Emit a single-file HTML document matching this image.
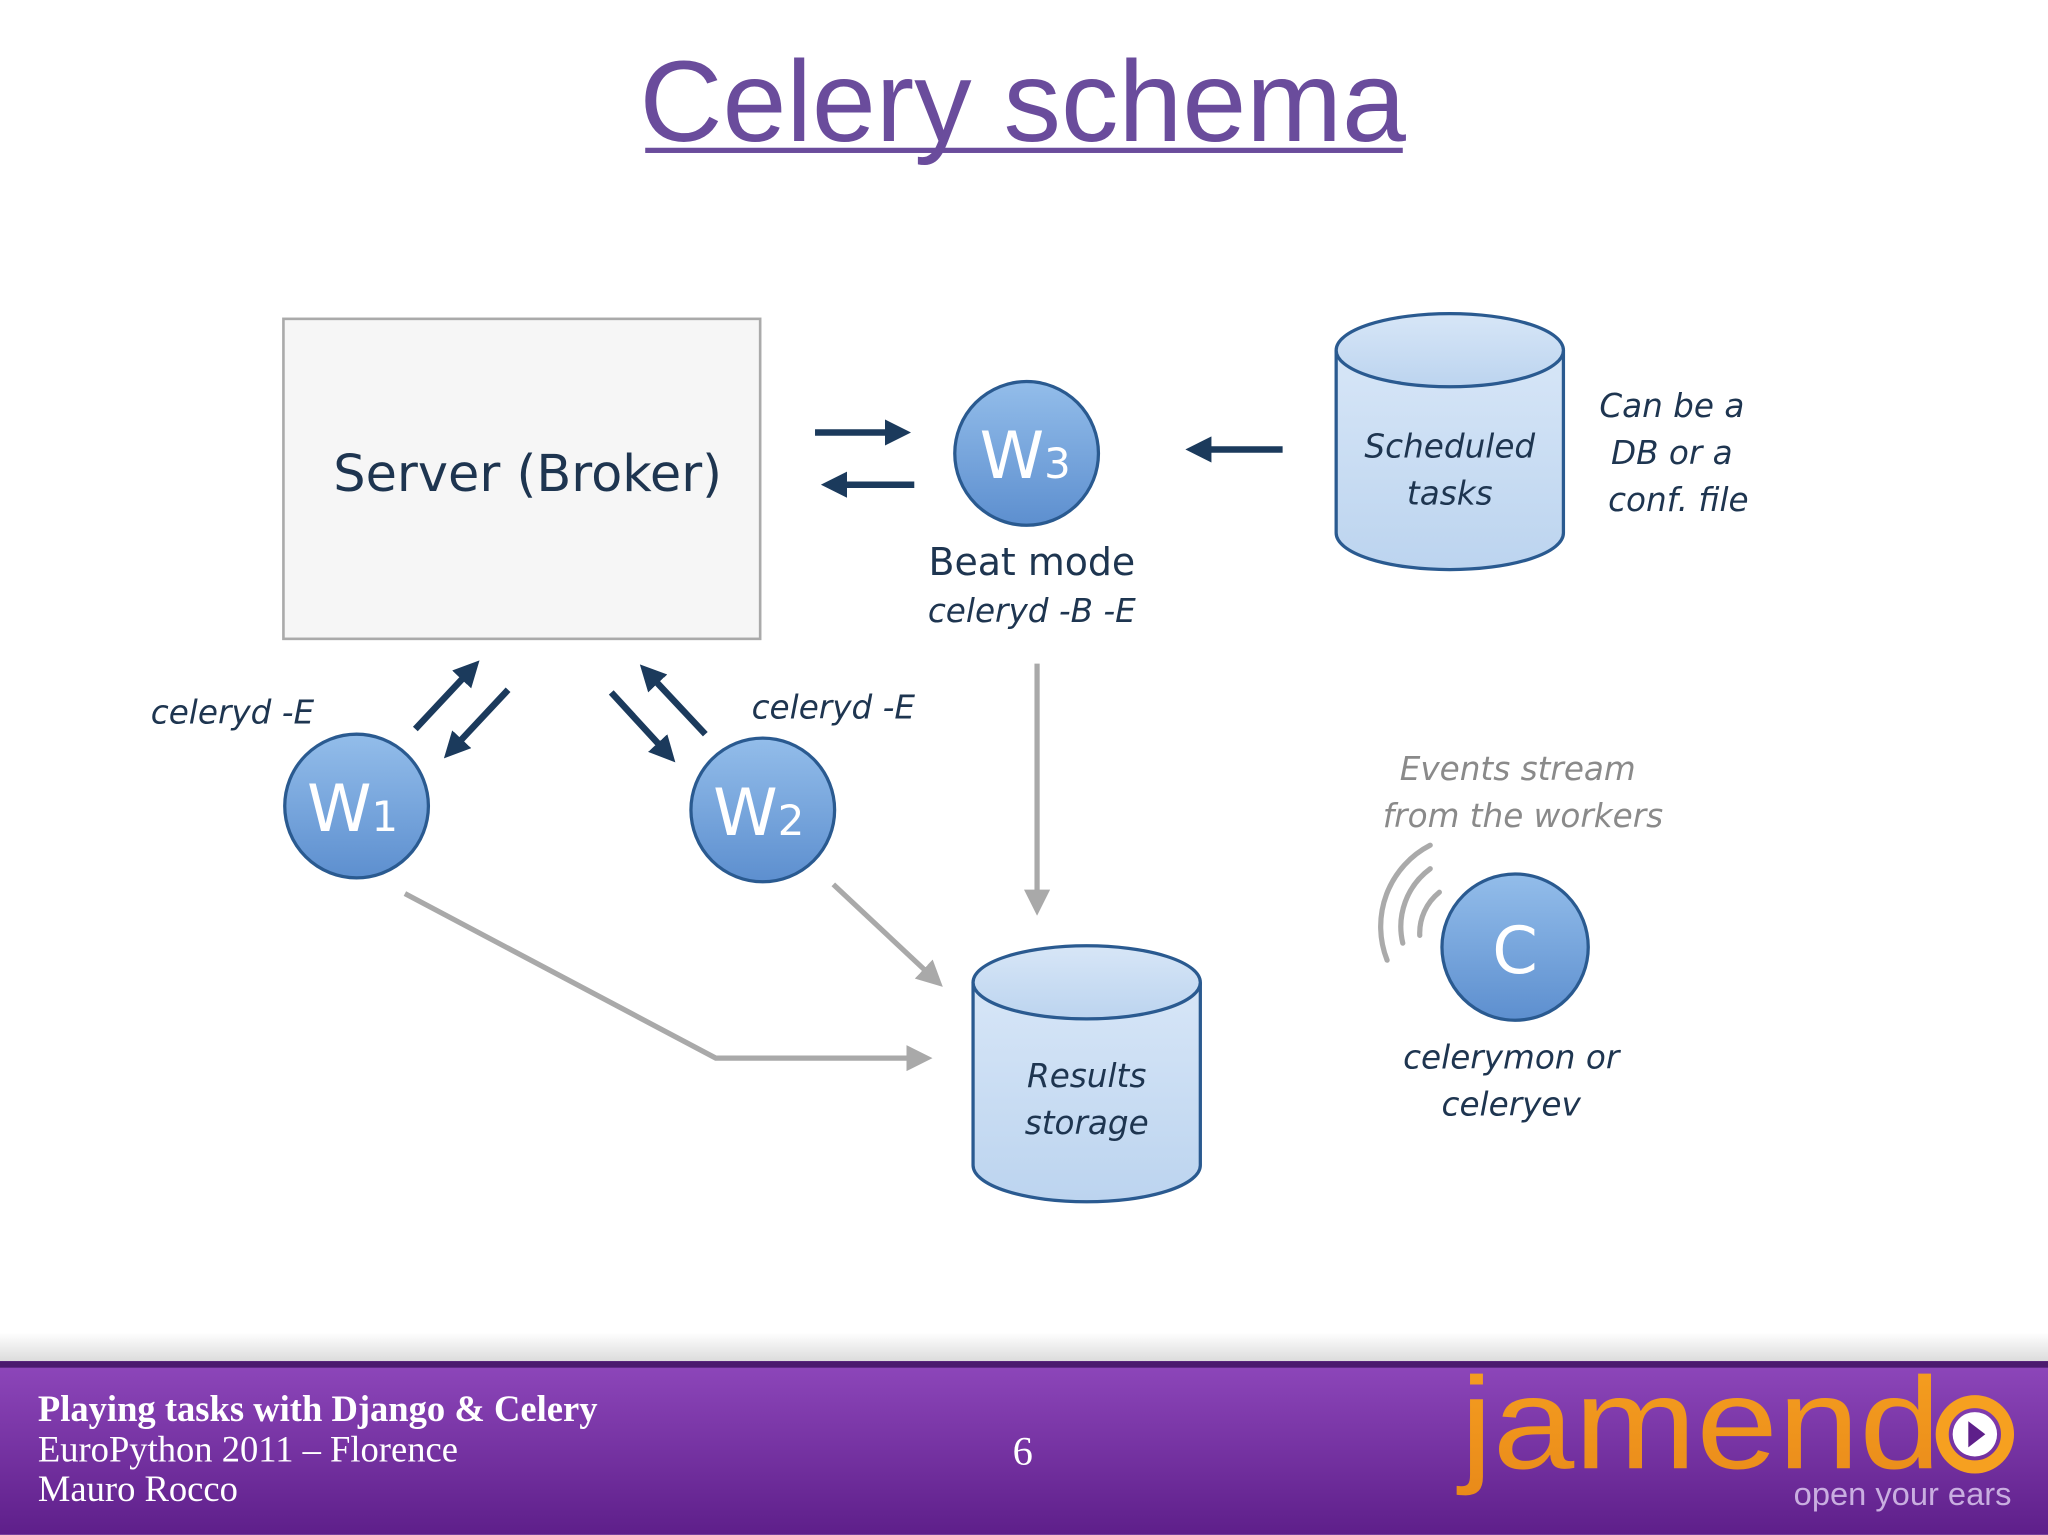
<!DOCTYPE html>
<html><head><meta charset="utf-8"><style>
html,body{margin:0;padding:0;background:#fff;width:2048px;height:1535px;overflow:hidden}
svg{display:block}
text{font-family:"DejaVu Sans","Liberation Sans",sans-serif}
</style></head><body>
<svg width="2048" height="1535" viewBox="0 0 1568 1175" xmlns="http://www.w3.org/2000/svg">
<defs>
<linearGradient id="cg" x1="0" y1="0" x2="0" y2="1"><stop offset="0" stop-color="#93bdea"/><stop offset="1" stop-color="#5d8fcf"/></linearGradient>
<linearGradient id="cy" x1="0" y1="0" x2="0" y2="1"><stop offset="0" stop-color="#d7e6f7"/><stop offset="1" stop-color="#bcd4ef"/></linearGradient>
<linearGradient id="ft" x1="0" y1="0" x2="0" y2="1"><stop offset="0" stop-color="#8e47bb"/><stop offset="1" stop-color="#5e1f8a"/></linearGradient>
<linearGradient id="sh" x1="0" y1="0" x2="0" y2="1"><stop offset="0" stop-color="#fff"/><stop offset="1" stop-color="#dcdcdc"/></linearGradient>
<linearGradient id="jm" x1="0" y1="0" x2="0" y2="1"><stop offset="0" stop-color="#f6a020"/><stop offset="1" stop-color="#e98a1a"/></linearGradient>
<marker id="ad" markerWidth="4" markerHeight="4" refX="2.5" refY="2" orient="auto" markerUnits="strokeWidth"><path d="M0,0 L4,2 L0,4 z" fill="#1b3a5c"/></marker>
<marker id="ag" markerWidth="5" markerHeight="5" refX="3" refY="2.5" orient="auto" markerUnits="strokeWidth"><path d="M0,0 L5,2.5 L0,5 z" fill="#a9a9a9"/></marker>
</defs>
<text x="783" y="108" text-anchor="middle" font-size="88" fill="#6a4c9c" style="font-family:'Liberation Sans',sans-serif">Celery schema</text>
<rect x="494" y="113" width="580" height="4" fill="#6a4c9c"/>

<rect x="217" y="244" width="365" height="245" fill="#f6f6f6" stroke="#aaa" stroke-width="2"/>
<text x="404" y="376" text-anchor="middle" font-size="39" fill="#1e3550">Server (Broker)</text>

<g stroke="#1b3a5c" stroke-width="5" fill="none">
<line x1="624" y1="331" x2="690" y2="331" marker-end="url(#ad)"/>
<line x1="700" y1="371" x2="636" y2="371" marker-end="url(#ad)"/>
<line x1="982" y1="344" x2="915" y2="344" marker-end="url(#ad)"/>
<line x1="318" y1="558" x2="362" y2="511" marker-end="url(#ad)"/>
<line x1="389" y1="528" x2="345" y2="575" marker-end="url(#ad)"/>
<line x1="468" y1="530" x2="512" y2="578" marker-end="url(#ad)"/>
<line x1="540" y1="562" x2="495" y2="514" marker-end="url(#ad)"/>
</g>

<g stroke="#a9a9a9" stroke-width="4" fill="none">
<line x1="794" y1="508" x2="794" y2="693" marker-end="url(#ag)"/>
<line x1="638" y1="677" x2="716" y2="750" marker-end="url(#ag)"/>
<polyline points="310,684 548,810 706,810" marker-end="url(#ag)"/>
</g>

<g stroke="#2a5a90" stroke-width="2.5" fill="url(#cg)">
<circle cx="786" cy="347" r="55"/>
<circle cx="273" cy="617" r="55"/>
<circle cx="584" cy="620" r="55"/>
<circle cx="1160" cy="725" r="56"/>
</g>
<g fill="#fff" font-size="50">
<text x="750" y="366">W<tspan font-size="32">3</tspan></text>
<text x="235" y="636">W<tspan font-size="32">1</tspan></text>
<text x="546" y="639">W<tspan font-size="32">2</tspan></text>
<text x="1160" y="745" text-anchor="middle">C</text>
</g>

<text x="790" y="440" text-anchor="middle" font-size="29" fill="#1e3550">Beat mode</text>

<g stroke="#2a5a90" stroke-width="2.5" fill="url(#cy)">
<path d="M1023,268 L1023,408 A87,28 0 0 0 1197,408 L1197,268"/>
<ellipse cx="1110" cy="268" rx="87" ry="28"/>
<path d="M745,752 L745,892 A87,28 0 0 0 919,892 L919,752"/>
<ellipse cx="832" cy="752" rx="87" ry="28"/>
</g>

<g font-style="italic" font-size="25" fill="#1e3550" text-anchor="middle">
<text x="790" y="476">celeryd -B -E</text>
<text x="178" y="554">celeryd -E</text>
<text x="638" y="550">celeryd -E</text>
<text x="1280" y="319">Can be a</text>
<text x="1280" y="355">DB or a</text>
<text x="1285" y="391">conf. file</text>
<text x="1157" y="818">celerymon or</text>
<text x="1157" y="854">celeryev</text>
<text x="1110" y="350">Scheduled</text>
<text x="1110" y="386">tasks</text>
<text x="832" y="832">Results</text>
<text x="832" y="868">storage</text>
<text x="1162" y="597" fill="#8a8a8a">Events stream</text>
<text x="1166" y="633" fill="#8a8a8a">from the workers</text>
</g>

<g stroke="#aaa" stroke-width="4" fill="none" stroke-linecap="round">
<path d="M1095,647 A70,70 0 0 0 1062,735"/>
<path d="M1095,665 A55,55 0 0 0 1074,722"/>
<path d="M1102,683 A40,40 0 0 0 1087,716"/>
</g>

<rect x="0" y="1020" width="1568" height="22" fill="url(#sh)"/>
<rect x="0" y="1042" width="1568" height="133" fill="url(#ft)"/>
<rect x="0" y="1042" width="1568" height="5" fill="#4b1a6e"/>
<g fill="#fff" font-size="28">
<text x="29" y="1088" font-weight="bold" style="font-family:'Liberation Serif',serif">Playing tasks with Django &amp; Celery</text>
<text x="29" y="1119" style="font-family:'Liberation Serif',serif">EuroPython 2011 – Florence</text>
<text x="29" y="1149" style="font-family:'Liberation Serif',serif">Mauro Rocco</text>
<text x="783" y="1121" text-anchor="middle" font-size="31" style="font-family:'Liberation Serif',serif">6</text>
</g>
<text x="1118" y="1124" font-size="100" fill="url(#jm)" style="font-family:'Liberation Sans',sans-serif" textLength="368" lengthAdjust="spacingAndGlyphs">jamend</text>
<circle cx="1512" cy="1098" r="25" fill="none" stroke="#f6a020" stroke-width="10"/>
<circle cx="1512" cy="1098" r="17" fill="#fff"/>
<path d="M1507,1088 L1520,1098 L1507,1108 z" fill="#5e1f8a"/>
<text x="1540" y="1152" text-anchor="end" font-size="25" fill="#c9aee0" style="font-family:'Liberation Sans',sans-serif">open your ears</text>
</svg>
</body></html>
